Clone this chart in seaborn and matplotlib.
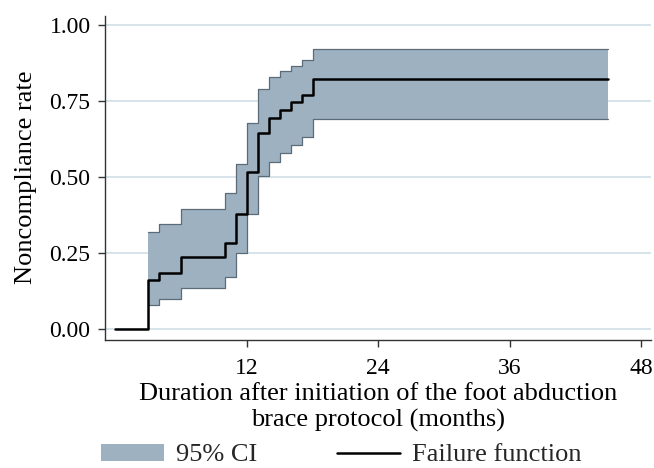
import numpy as np
import pandas as pd
import seaborn as sns
import matplotlib
matplotlib.use("Agg")
import matplotlib.pyplot as plt
from matplotlib.patches import Patch
from matplotlib.lines import Line2D

# Data
times = [0, 3, 4, 6, 10, 11, 12, 13, 14, 15, 16, 17, 18, 45]
failure = [0.0, 0.164, 0.186, 0.237, 0.285, 0.381, 0.518, 0.644, 0.696, 0.721, 0.748, 0.770, 0.823, 0.823]
ci_times = [3, 4, 6, 10, 11, 12, 13, 14, 15, 16, 17, 18, 45]
ci_lower = [0.080, 0.099, 0.135, 0.171, 0.252, 0.381, 0.504, 0.551, 0.581, 0.606, 0.633, 0.690, 0.690]
ci_upper = [0.320, 0.345, 0.396, 0.447, 0.543, 0.677, 0.789, 0.828, 0.850, 0.866, 0.884, 0.920, 0.920]
xticks = [12, 24, 36, 48]
yticks = [0.00, 0.25, 0.50, 0.75, 1.00]

sns.set_theme(style="white")
plt.rcParams['font.family'] = ['Liberation Serif', 'DejaVu Serif']

LFS = 19
TFS = 17

fig = plt.figure(figsize=(6.54, 4.68), dpi=100)
ax = fig.add_axes([104.5/654, 1-339.5/468, (651-104.5)/654, (339.5-16)/468])

fill_c = '#9eb1c1'
edge_c = '#5b6b77'
grid_c = '#d3e2e7'

for yv in yticks:
    ax.axhline(yv, color=grid_c, lw=1.3, zorder=0)

ax.fill_between(ci_times, ci_lower, ci_upper, step='post', color=fill_c, lw=0, zorder=1)
df_ci = pd.DataFrame({'t': ci_times + ci_times,
                      'v': ci_lower + ci_upper,
                      'b': ['lo'] * len(ci_times) + ['hi'] * len(ci_times)})
sns.lineplot(data=df_ci, x='t', y='v', units='b', estimator=None, ax=ax,
             drawstyle='steps-post', color=edge_c, lw=0.9, zorder=2, legend=False)
df_f = pd.DataFrame({'t': times, 'f': failure})
sns.lineplot(data=df_f, x='t', y='f', ax=ax, drawstyle='steps-post',
             color='black', lw=1.8, zorder=3, legend=False)

ax.set_xlim(-1, 48.9)
ax.set_ylim(-0.033, 1.03)
ax.set_xticks(xticks)
ax.set_xticklabels([str(v) for v in xticks])
ax.set_yticks(yticks)
ax.set_yticklabels([f"{v:.2f}" for v in yticks])

for s in ['top', 'right']:
    ax.spines[s].set_visible(False)
for s in ['left', 'bottom']:
    ax.spines[s].set_color('#333333')
    ax.spines[s].set_linewidth(1.0)

ax.tick_params(axis='both', which='both', direction='out', length=5, width=1,
               color='#333333', labelsize=TFS, labelcolor='black',
               left=True, bottom=True)
ax.tick_params(axis='x', pad=8.5)
ax.tick_params(axis='y', pad=5)

ax.set_ylabel('Noncompliance rate', fontsize=LFS, color='black', labelpad=9)
ax.set_xlabel('Duration after initiation of the foot abduction\nbrace protocol (months)',
              fontsize=LFS, color='black', labelpad=3, linespacing=1.2)

handles = [Patch(facecolor=fill_c, edgecolor='none'),
           Line2D([0], [0], color='black', lw=1.8)]
fig.legend(handles, ['95% CI', 'Failure function'], loc='center left',
           bbox_to_anchor=(101/654, 1-455/468), ncol=2, frameon=False,
           fontsize=LFS, handlelength=2.4, handleheight=0.62, handletextpad=0.45,
           columnspacing=3.0, borderaxespad=0, borderpad=0)

fig.savefig('out.png', dpi=100)
